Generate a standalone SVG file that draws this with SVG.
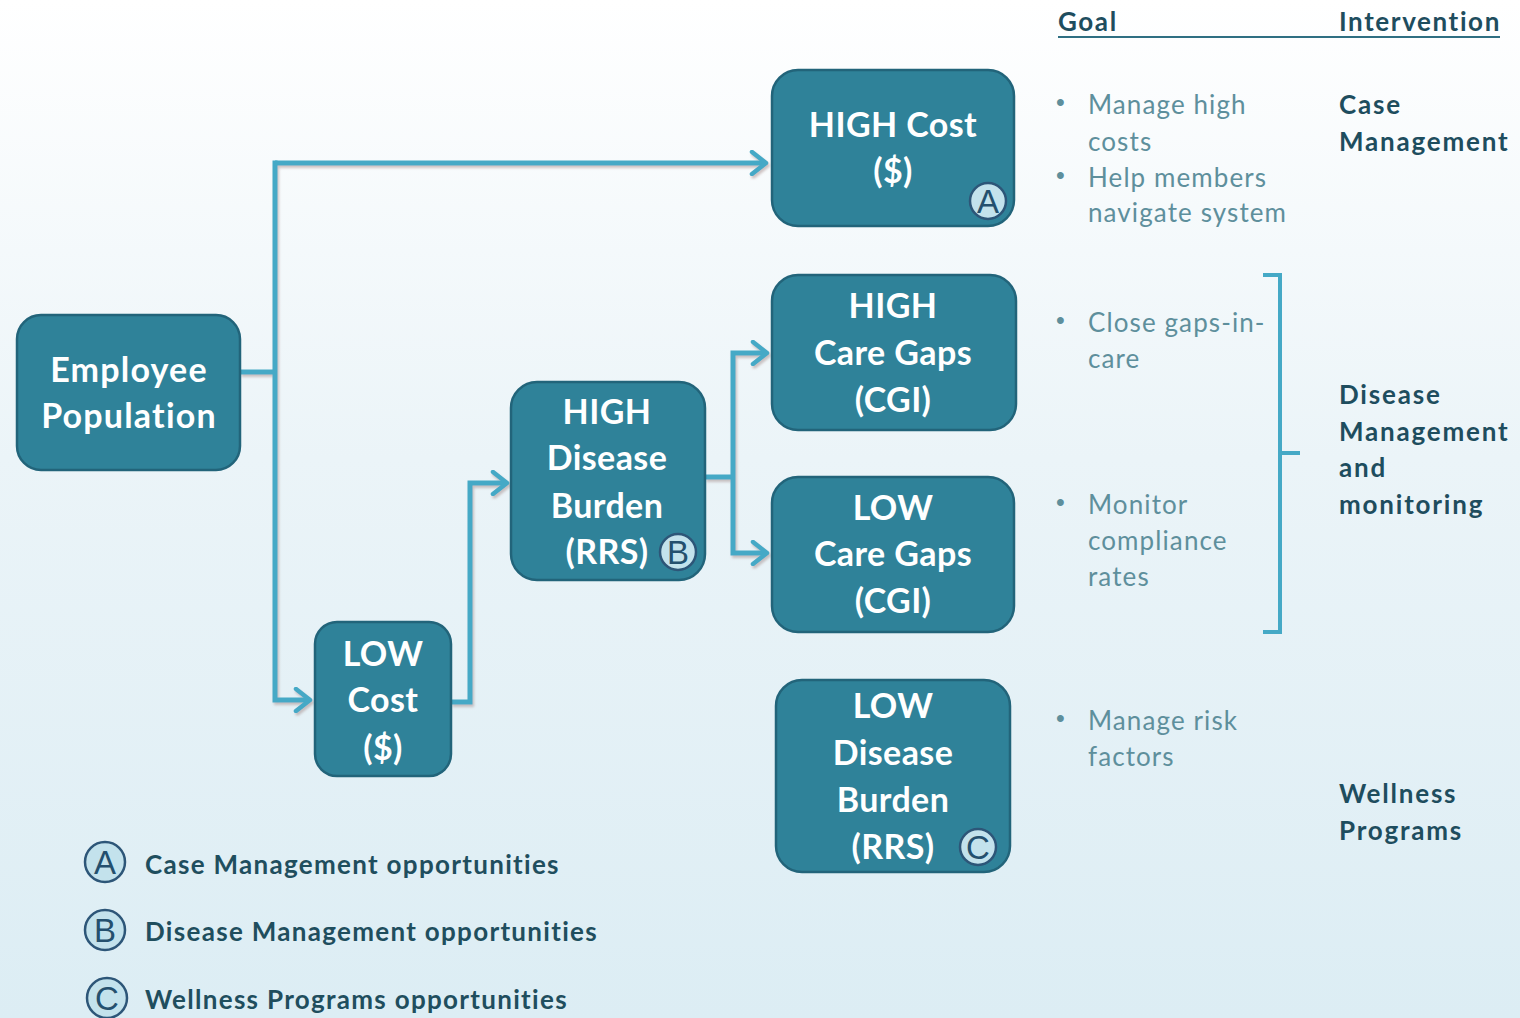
<svg xmlns="http://www.w3.org/2000/svg" width="1520" height="1018" viewBox="0 0 1520 1018">
  <defs>
    <linearGradient id="bg" x1="0" y1="0" x2="0" y2="1">
      <stop offset="0" stop-color="#ffffff"/>
      <stop offset="0.45" stop-color="#ebf4f8"/>
      <stop offset="1" stop-color="#dcedf4"/>
    </linearGradient>
    <filter id="lineShadow" x="-5%" y="-5%" width="110%" height="110%">
      <feDropShadow dx="1.5" dy="2.5" stdDeviation="1.2" flood-color="#9a7f7a" flood-opacity="0.45"/>
    </filter>
    <marker id="chev" viewBox="0 0 22 26" refX="19" refY="13" markerWidth="22" markerHeight="26" markerUnits="userSpaceOnUse" orient="auto">
      <polyline points="5,2 19,13 5,24" fill="none" stroke="#45a9c6" stroke-width="4.5" stroke-linecap="round" stroke-linejoin="round"/>
    </marker>
    <style>
      .box { fill: #2f8299; stroke: #22647a; stroke-width: 2.5; }
      .bt { font-family: Lato, "Open Sans", sans-serif; font-weight: 700; font-size: 34px; fill: #ffffff; text-anchor: middle; letter-spacing: 0.4px; }
      .wire { fill: none; stroke: #45a9c6; stroke-width: 5; stroke-linejoin: miter; }
      .badge { fill: #c3e2ec; stroke: #2d5678; stroke-width: 2.5; }
      .bl { font-family: "Liberation Sans", Arial, sans-serif; font-size: 33px; fill: #24506e; text-anchor: middle; }
      .goal { font-family: Lato, "Open Sans", sans-serif; font-size: 26px; fill: #5e8f9c; letter-spacing: 1.1px; }
      .dot { font-family: "Liberation Sans", Arial, sans-serif; font-size: 25px; fill: #5e8f9c; }
      .intv { font-family: Lato, "Open Sans", sans-serif; font-weight: 700; font-size: 26px; fill: #1e4d5e; letter-spacing: 1.8px; }
      .hdr { font-family: Lato, "Open Sans", sans-serif; font-weight: 700; font-size: 26px; fill: #1e4d5e; letter-spacing: 1.6px; }
      .leg { font-family: Lato, "Open Sans", sans-serif; font-weight: 700; font-size: 26px; fill: #1f4e5e; letter-spacing: 1.3px; }
      .brk { fill: none; stroke: #45a9c6; stroke-width: 4; }
    </style>
  </defs>

  <rect x="0" y="0" width="1520" height="1018" fill="url(#bg)"/>

  <!-- connectors -->
  <g id="connectors" filter="url(#lineShadow)">
    <polyline class="wire" points="240,372 275,372"/>
    <polyline class="wire" points="275,163 766,163" marker-end="url(#chev)"/>
    <polyline class="wire" points="275,160.5 275,700 310,700" marker-end="url(#chev)"/>
    <polyline class="wire" points="451,702 470,702 470,483 507,483" marker-end="url(#chev)"/>
    <polyline class="wire" points="705,477 733,477"/>
    <polyline class="wire" points="733,477 733,353 767,353" marker-end="url(#chev)"/>
    <polyline class="wire" points="733,477 733,553 767,553" marker-end="url(#chev)"/>
  </g>

  <!-- nodes -->
  <g id="employee-population">
    <rect class="box" x="17" y="315" width="223" height="155" rx="24"/>
    <text class="bt" x="129" y="382" style="letter-spacing:1.2px">Employee</text>
    <text class="bt" x="129" y="428" style="letter-spacing:1.2px">Population</text>
  </g>

  <g id="high-cost">
    <rect class="box" x="772" y="70" width="242" height="156" rx="26"/>
    <text class="bt" x="893" y="137">HIGH Cost</text>
    <text class="bt" x="893" y="183">($)</text>
    <circle class="badge" cx="988" cy="201" r="18"/>
    <text class="bl" x="988" y="213">A</text>
  </g>

  <g id="low-cost">
    <rect class="box" x="315" y="622" width="136" height="154" rx="22"/>
    <text class="bt" x="383" y="666">LOW</text>
    <text class="bt" x="383" y="712">Cost</text>
    <text class="bt" x="383" y="760">($)</text>
  </g>

  <g id="high-disease-burden">
    <rect class="box" x="511" y="382" width="194" height="198" rx="26"/>
    <text class="bt" x="607" y="424">HIGH</text>
    <text class="bt" x="607" y="470">Disease</text>
    <text class="bt" x="607" y="518">Burden</text>
    <text class="bt" x="607" y="564">(RRS)</text>
    <circle class="badge" cx="678" cy="552" r="18"/>
    <text class="bl" x="678" y="564">B</text>
  </g>

  <g id="high-care-gaps">
    <rect class="box" x="772" y="275" width="244" height="155" rx="26"/>
    <text class="bt" x="893" y="318">HIGH</text>
    <text class="bt" x="893" y="365">Care Gaps</text>
    <text class="bt" x="893" y="412">(CGI)</text>
  </g>

  <g id="low-care-gaps">
    <rect class="box" x="772" y="477" width="242" height="155" rx="26"/>
    <text class="bt" x="893" y="520">LOW</text>
    <text class="bt" x="893" y="566">Care Gaps</text>
    <text class="bt" x="893" y="613">(CGI)</text>
  </g>

  <g id="low-disease-burden">
    <rect class="box" x="776" y="680" width="234" height="192" rx="26"/>
    <text class="bt" x="893" y="718">LOW</text>
    <text class="bt" x="893" y="765">Disease</text>
    <text class="bt" x="893" y="812">Burden</text>
    <text class="bt" x="893" y="859">(RRS)</text>
    <circle class="badge" cx="978" cy="847" r="18"/>
    <text class="bl" x="978" y="859">C</text>
  </g>

  <!-- column headers -->
  <g id="headers">
    <text class="hdr" x="1058" y="31">Goal</text>
    <text class="hdr" x="1339" y="31">Intervention</text>
    <line x1="1058" y1="37" x2="1500" y2="37" stroke="#2f6f82" stroke-width="2"/>
  </g>

  <!-- goals -->
  <g id="goals">
    <text class="dot" x="1056" y="111">•</text>
    <text class="goal" x="1088" y="114">Manage high</text>
    <text class="goal" x="1088" y="151">costs</text>
    <text class="dot" x="1056" y="184">•</text>
    <text class="goal" x="1088" y="187">Help members</text>
    <text class="goal" x="1088" y="222">navigate system</text>
    <text class="dot" x="1056" y="329">•</text>
    <text class="goal" x="1088" y="332">Close gaps-in-</text>
    <text class="goal" x="1088" y="368">care</text>
    <text class="dot" x="1056" y="511">•</text>
    <text class="goal" x="1088" y="514">Monitor</text>
    <text class="goal" x="1088" y="550">compliance</text>
    <text class="goal" x="1088" y="586">rates</text>
    <text class="dot" x="1056" y="727">•</text>
    <text class="goal" x="1088" y="730">Manage risk</text>
    <text class="goal" x="1088" y="766">factors</text>
  </g>

  <!-- bracket grouping the care-gap goals -->
  <g id="bracket">
    <polyline class="brk" points="1263,275 1280,275 1280,632 1263,632"/>
    <line class="brk" x1="1280" y1="453" x2="1300" y2="453"/>
  </g>

  <!-- interventions -->
  <g id="interventions">
    <text class="intv" x="1339" y="114">Case</text>
    <text class="intv" x="1339" y="151">Management</text>
    <text class="intv" x="1339" y="404">Disease</text>
    <text class="intv" x="1339" y="441">Management</text>
    <text class="intv" x="1339" y="477">and</text>
    <text class="intv" x="1339" y="514">monitoring</text>
    <text class="intv" x="1339" y="803">Wellness</text>
    <text class="intv" x="1339" y="840">Programs</text>
  </g>

  <!-- legend -->
  <g id="legend">
    <circle class="badge" cx="105" cy="862" r="20"/>
    <text class="bl" x="105" y="874">A</text>
    <text class="leg" x="145" y="874">Case Management opportunities</text>
    <circle class="badge" cx="105" cy="930" r="20"/>
    <text class="bl" x="105" y="942">B</text>
    <text class="leg" x="145" y="941">Disease Management opportunities</text>
    <circle class="badge" cx="107" cy="998" r="20"/>
    <text class="bl" x="107" y="1010">C</text>
    <text class="leg" x="145" y="1009">Wellness Programs opportunities</text>
  </g>
</svg>
